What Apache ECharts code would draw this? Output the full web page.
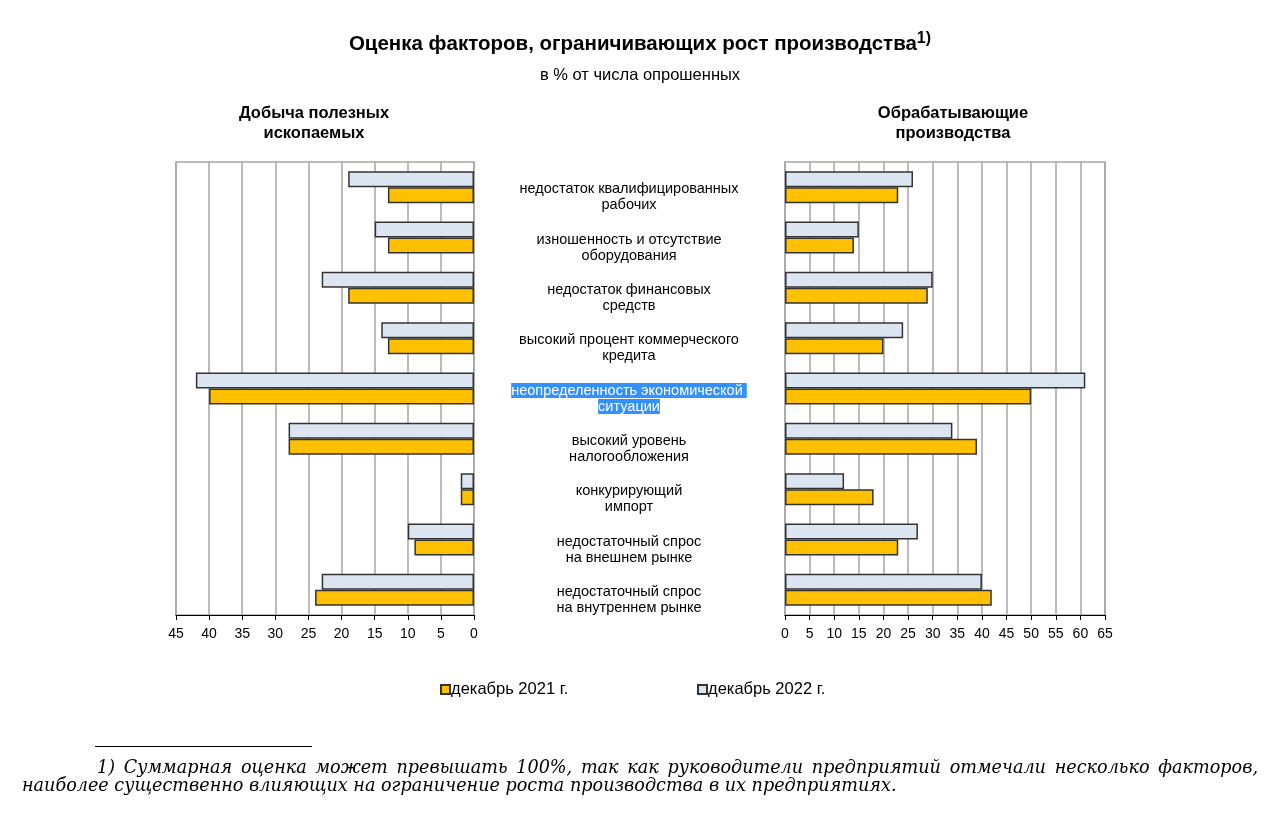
<!DOCTYPE html>
<html><head><meta charset="utf-8">
<script src="https://cdn.jsdelivr.net/npm/echarts@6/dist/echarts.min.js"></script>
<style>html,body{margin:0;padding:0;background:#fff}#c{width:1280px;height:818px}</style>
</head><body><div id="c"></div>
<script>
const categories = [
  'недостаток квалифицированных\nрабочих',
  'изношенность и отсутствие\nоборудования',
  'недостаток финансовых\nсредств',
  'высокий процент коммерческого\nкредита',
  'неопределенность экономической\nситуации',
  'высокий уровень\nналогообложения',
  'конкурирующий\nимпорт',
  'недостаточный спрос\nна внешнем рынке',
  'недостаточный спрос\nна внутреннем рынке'
];
const mining2021 = [13, 13, 19, 13, 40, 28, 2, 9, 24];
const mining2022 = [19, 15, 23, 14, 42, 28, 2, 10, 23];
const manuf2021 = [23, 14, 29, 20, 50, 39, 18, 23, 42];
const manuf2022 = [26, 15, 30, 24, 61, 34, 12, 27, 40];
const seriesNames = ['декабрь 2021 г.', 'декабрь 2022 г.'];
const panelTitles = ['Добыча полезных\nископаемых', 'Обрабатывающие\nпроизводства'];
const mainTitle = 'Оценка факторов, ограничивающих рост производства';
const titleNote = '1)';
const subTitle = 'в % от числа опрошенных';
const footLine1 = '1) Суммарная оценка может превышать 100%, так как руководители предприятий отмечали несколько факторов,';
const footLine2 = 'наиболее существенно влияющих на ограничение роста производства в их предприятиях.';
const highlightedIndex = 4;

const SANS = '"Liberation Sans", Arial, sans-serif';
const FOOTFONT = 'italic 17.6px "DejaVu Serif", serif';
const C2021 = '#FFC000', C2022 = '#DCE6F2', BORDER = '#333333', GRIDC = '#A6A6A6';

const mctx = document.createElement('canvas').getContext('2d');
function justified(text, font, x0, x1, y) {
  const words = text.split(' ');
  mctx.font = font;
  const w = words.map(s => mctx.measureText(s).width);
  const total = w.reduce((a, b) => a + b, 0);
  const gap = (x1 - x0 - total) / (words.length - 1);
  let x = x0;
  return words.map((s, i) => {
    const el = { type: 'text', x: x, y: y, silent: true,
      style: { text: s, font: font, fill: '#000', textAlign: 'left', textVerticalAlign: 'middle' } };
    x += w[i] + gap;
    return el;
  });
}

function barSeries(name, data, color, idx) {
  return {
    type: 'bar', name: name, data: data, xAxisIndex: idx, yAxisIndex: idx,
    barWidth: 16, barGap: '0%',
    itemStyle: { color: color, borderColor: BORDER, borderWidth: 1.5 },
    emphasis: { disabled: true }
  };
}

function valueAxis(idx, max) {
  return {
    type: 'value', gridIndex: idx, min: 0, max: max, interval: 5, inverse: idx === 0,
    axisLine: { show: true, onZero: false, lineStyle: { color: '#000', width: 1.2 } },
    axisTick: { show: true, length: 5, lineStyle: { color: '#000' } },
    axisLabel: { color: '#000', fontSize: 14, fontFamily: SANS, margin: 12 },
    splitLine: { show: true, lineStyle: { color: GRIDC, width: 1.5 } }
  };
}

const chart = echarts.init(document.getElementById('c'), null, { renderer: 'canvas' });
chart.setOption({
  animation: false,
  backgroundColor: '#fff',
  textStyle: { fontFamily: SANS },
  title: [
    { text: '{t|' + mainTitle + '}{s|' + titleNote + '}', left: 'center', top: 26,
      textStyle: { rich: {
        t: { fontSize: 20.5, fontWeight: 'bold', color: '#000', fontFamily: SANS, lineHeight: 26 },
        s: { fontSize: 16, fontWeight: 'bold', color: '#000', fontFamily: SANS, verticalAlign: 'top', lineHeight: 26 }
      } } },
    { text: subTitle, left: 'center', top: 62, textStyle: { fontSize: 16.5, fontWeight: 'normal', color: '#000', fontFamily: SANS } }
  ],
  legend: [
    { data: [seriesNames[0]], left: 440, top: 681, padding: 0, itemWidth: 9, itemHeight: 9, icon: 'rect', itemGap: 0,
      textStyle: { fontSize: 16.5, color: '#000', fontFamily: SANS, padding: [0, 0, 0, -4] }, selectedMode: false },
    { data: [seriesNames[1]], left: 697, top: 681, padding: 0, itemWidth: 9, itemHeight: 9, icon: 'rect', itemGap: 0,
      textStyle: { fontSize: 16.5, color: '#000', fontFamily: SANS, padding: [0, 0, 0, -4] }, selectedMode: false }
  ],
  grid: [
    { left: 176, top: 162, width: 298, height: 453, show: true, borderColor: GRIDC, borderWidth: 1.5, backgroundColor: 'transparent' },
    { left: 785, top: 162, width: 320, height: 453, show: true, borderColor: GRIDC, borderWidth: 1.5, backgroundColor: 'transparent' }
  ],
  xAxis: [valueAxis(0, 45), valueAxis(1, 65)],
  yAxis: [
    { type: 'category', gridIndex: 0, data: categories, inverse: true, position: 'right',
      axisLine: { show: false }, axisTick: { show: false }, splitLine: { show: false },
      axisLabel: {
        interval: 0, showMinLabel: true, showMaxLabel: true, hideOverlap: false,
        margin: 155, align: 'center', color: '#000', fontSize: 14.5, lineHeight: 16, fontFamily: SANS,
        padding: [20, 0, 0, 0],
        formatter: function (v, i) {
          if (i === highlightedIndex) {
            const parts = v.split('\n');
            return '{hl|' + parts[0] + ' }\n{hl|' + parts[1] + '}';
          }
          return v;
        },
        rich: { hl: { backgroundColor: '#3391FF', color: '#fff', fontSize: 14.5, lineHeight: 16, fontFamily: SANS } }
      } },
    { type: 'category', gridIndex: 1, data: categories, inverse: true,
      axisLine: { show: false }, axisTick: { show: false }, axisLabel: { show: false }, splitLine: { show: false } }
  ],
  series: [
    barSeries(seriesNames[1], mining2022, C2022, 0),
    barSeries(seriesNames[0], mining2021, C2021, 0),
    barSeries(seriesNames[1], manuf2022, C2022, 1),
    barSeries(seriesNames[0], manuf2021, C2021, 1)
  ],
  graphic: [
    { type: 'text', x: 314, y: 123, silent: true,
      style: { text: panelTitles[0], font: 'bold 16.5px ' + SANS, fill: '#000', textAlign: 'center', textVerticalAlign: 'middle', lineHeight: 20 } },
    { type: 'text', x: 953, y: 123, silent: true,
      style: { text: panelTitles[1], font: 'bold 16.5px ' + SANS, fill: '#000', textAlign: 'center', textVerticalAlign: 'middle', lineHeight: 20 } },
    { type: 'line', silent: true, shape: { x1: 95, y1: 746.5, x2: 312, y2: 746.5 }, style: { stroke: '#000', lineWidth: 1 } }
  ].concat(justified(footLine1, FOOTFONT, 97, 1258, 768))
   .concat([{ type: 'text', x: 22, y: 786, silent: true,
      style: { text: footLine2, font: FOOTFONT, fill: '#000', textAlign: 'left', textVerticalAlign: 'middle' } }])
});
</script>
</body></html>
